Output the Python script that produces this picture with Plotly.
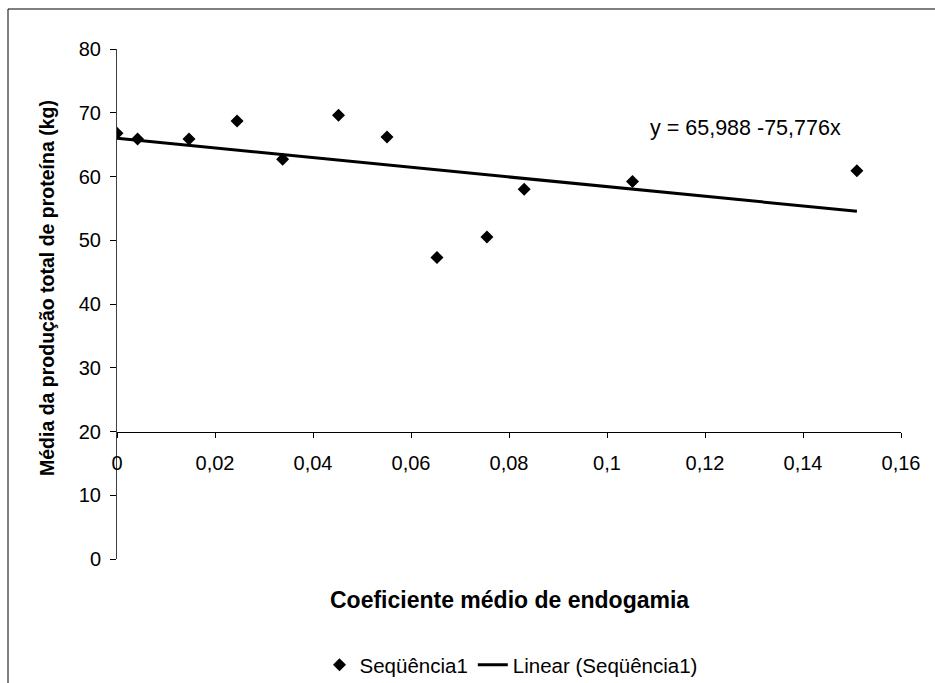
import plotly.graph_objects as go

# Data
x_coef = [0.0, 0.0042, 0.0147, 0.0245, 0.0338, 0.0452, 0.0551, 0.0653, 0.0755, 0.0831, 0.1052, 0.1510]
y_prot = [66.8, 65.9, 65.9, 68.7, 62.7, 69.6, 66.2, 47.3, 50.5, 58.0, 59.2, 60.9]

intercept = 65.988
slope = -75.776
trend_x = [min(x_coef), max(x_coef)]
trend_y = [intercept + slope * v for v in trend_x]

x_tickvals = [0, 0.02, 0.04, 0.06, 0.08, 0.1, 0.12, 0.14, 0.16]
x_ticktext = ["0", "0,02", "0,04", "0,06", "0,08", "0,1", "0,12", "0,14", "0,16"]
y_tickvals = [0, 10, 20, 30, 40, 50, 60, 70, 80]

FONT = "Liberation Sans, Arial, sans-serif"

# plot area geometry helpers (pixels -> paper)
L, R, T, B = 117, 34, 49, 124
PW, PH = 935 - L - R, 683 - T - B


def px_x(p):
    return (p - L) / PW


def px_y(p):
    return (683 - B - p) / PH


fig = go.Figure()
fig.add_trace(go.Scatter(
    x=x_coef, y=y_prot, mode="markers", name="Seqüência1",
    marker=dict(symbol="diamond", size=10, color="black"),
))
fig.add_trace(go.Scatter(
    x=trend_x, y=trend_y, mode="lines", name="Linear (Seqüência1)",
    line=dict(color="black", width=3),
))

fig.update_layout(
    width=935, height=683,
    margin=dict(l=L, r=R, t=T, b=B, autoexpand=False),
    paper_bgcolor="white", plot_bgcolor="white",
    font=dict(family=FONT, size=20, color="black"),
    showlegend=True,
    legend=dict(orientation="h", x=px_x(511), xanchor="center", y=px_y(665), yanchor="middle",
                font=dict(size=20.5), bgcolor="rgba(0,0,0,0)"),
    xaxis=dict(range=[0, 0.16], tickvals=x_tickvals, ticktext=x_ticktext,
               anchor="free", position=0.25, showline=True, linecolor="black", linewidth=1,
               ticks="outside", ticklen=5, tickcolor="black", showgrid=False, zeroline=False,
               tickfont=dict(size=20), ticklabelstandoff=8),
    yaxis=dict(range=[0, 80], tickvals=y_tickvals, showline=True, linecolor="#404040", linewidth=1,
               ticks="outside", ticklen=6, tickcolor="black", showgrid=False, zeroline=False,
               tickfont=dict(size=20), ticklabelstandoff=5),
    annotations=[
        dict(text="y = 65,988 -75,776x", x=0.1282, y=67.6, xref="x", yref="y",
             showarrow=False, font=dict(size=21.5), xanchor="center", yanchor="middle"),
        dict(text="<b>Coeficiente médio de endogamia</b>", x=px_x(509), y=px_y(600),
             xref="paper", yref="paper", showarrow=False, font=dict(size=23),
             xanchor="center", yanchor="middle"),
        dict(text="<b>Média da produção total de proteína (kg)</b>", x=px_x(47),
             y=px_y(288), xref="paper", yref="paper", showarrow=False,
             textangle=-90, font=dict(size=19.5), xanchor="center", yanchor="middle"),
    ],
    shapes=[
        dict(type="rect", xref="paper", yref="paper", x0=px_x(8), x1=1.3,
             y0=-0.5, y1=px_y(9), line=dict(color="black", width=1),
             fillcolor="rgba(0,0,0,0)", layer="below"),
    ],
)

fig.write_html("out.html")
